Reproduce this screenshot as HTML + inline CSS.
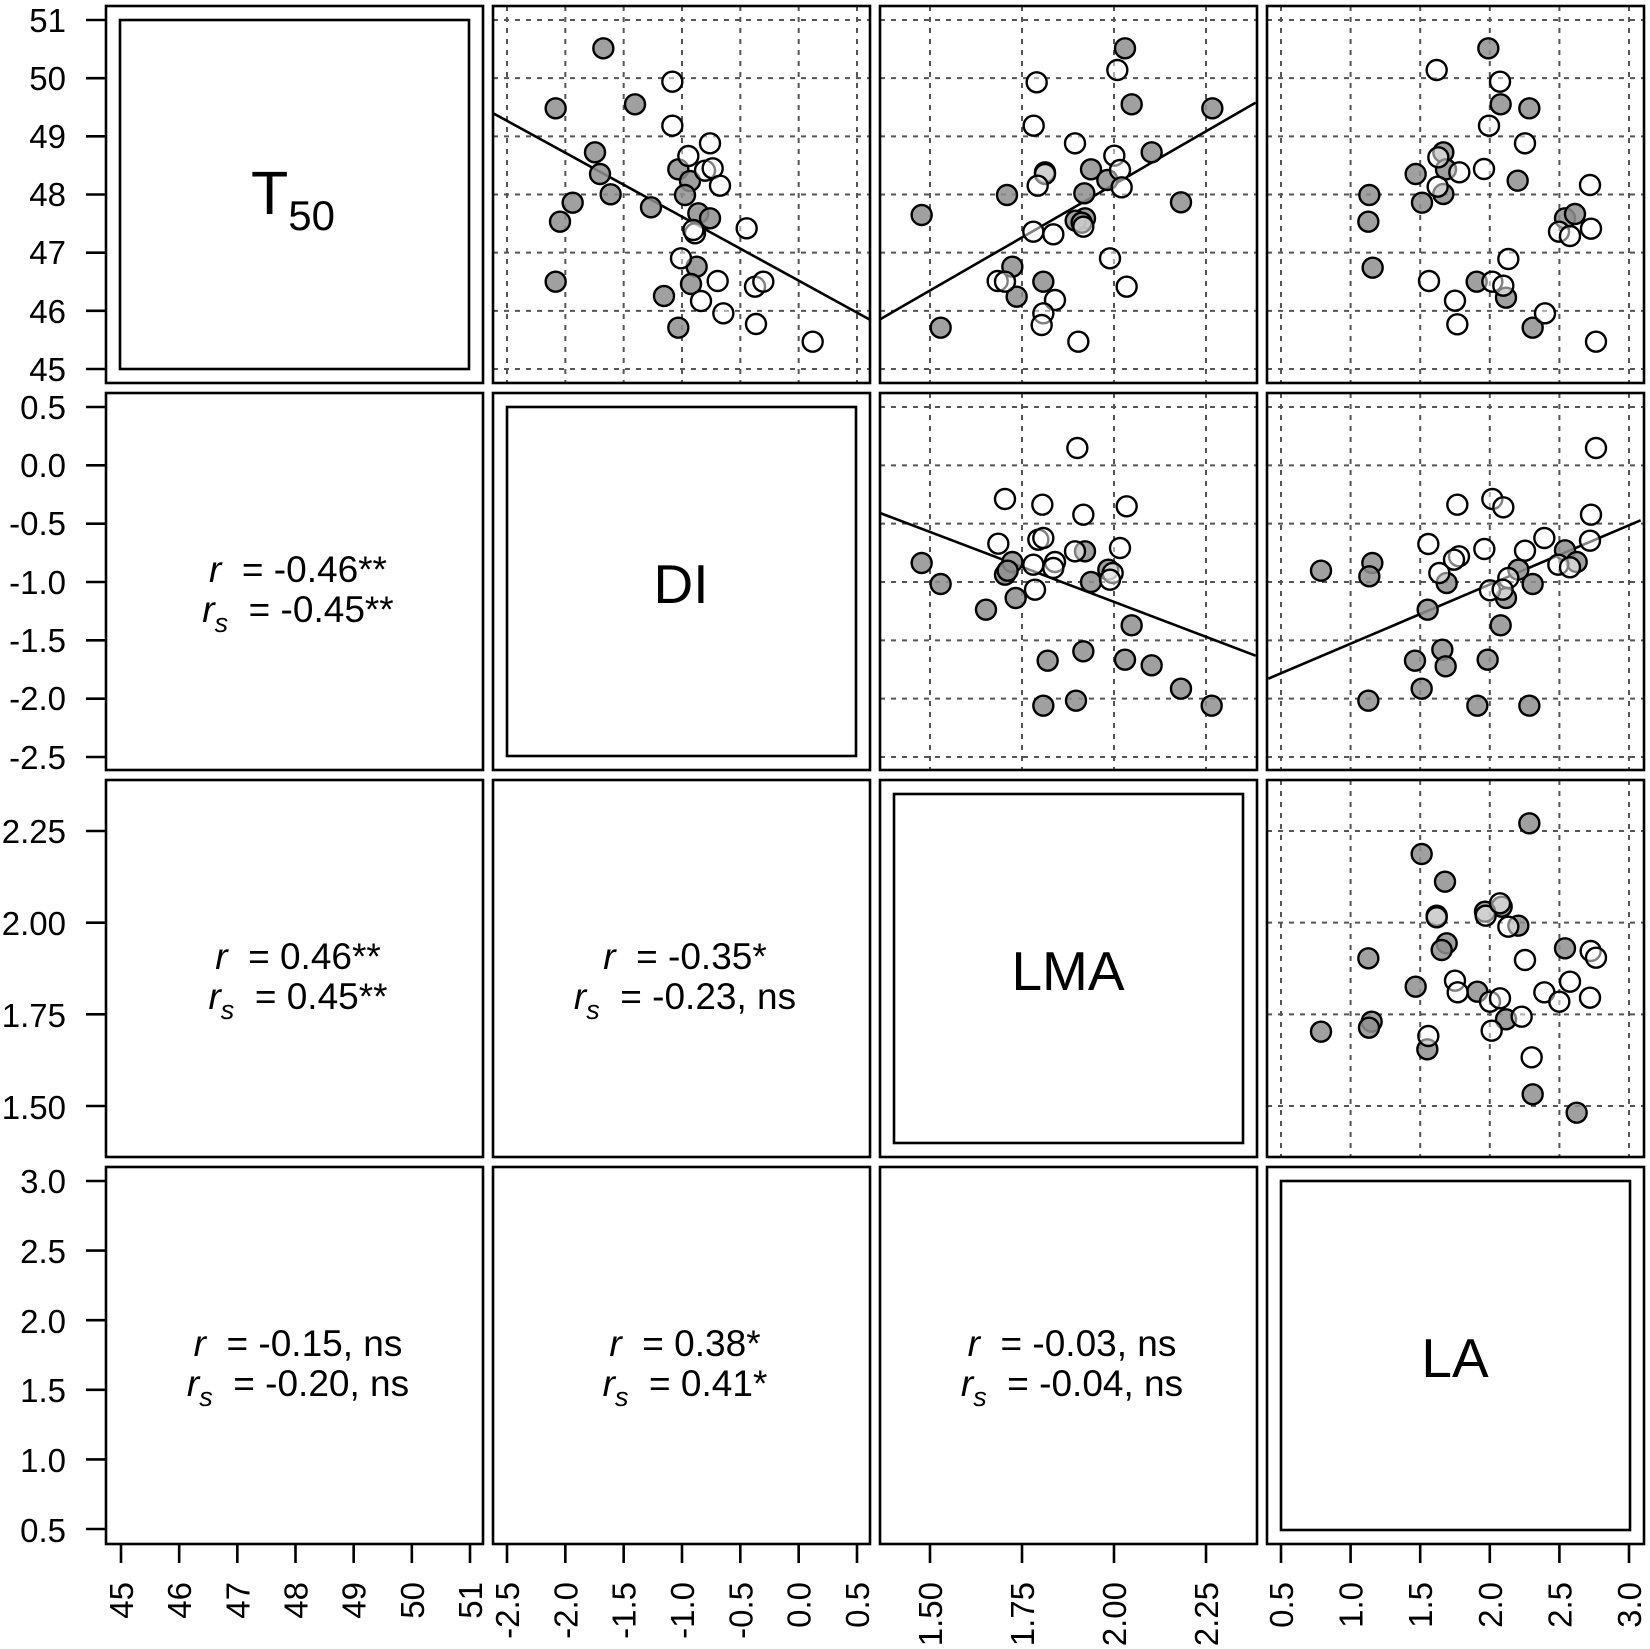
<!DOCTYPE html>
<html><head><meta charset="utf-8"><style>
html,body{margin:0;padding:0;background:#fff}
svg{display:block}
text{font-family:"Liberation Sans",Arial,sans-serif;fill:#000}
</style></head><body>
<svg id="s" xmlns="http://www.w3.org/2000/svg" width="1650" height="1649" viewBox="0 0 1650 1649">
<rect width="1650" height="1649" fill="#fff"/>
<g id="grid" stroke="#555" stroke-width="2" stroke-dasharray="5 6" fill="none"></g>
<g id="lines" stroke="#000" stroke-width="2.6" fill="none"></g>
<g id="pts" stroke="#000" stroke-width="2.4"></g>
<g id="boxes" stroke="#000" stroke-width="2.6" fill="none"></g>
<g id="ticks" stroke="#000" stroke-width="2.6"></g>
<g id="labels" font-size="33"></g>
<!-- diagonal labels -->
<text x="293" y="214" font-size="61" text-anchor="middle">T<tspan font-size="42" dy="16">50</tspan></text>
<text x="681" y="603" font-size="55" text-anchor="middle">DI</text>
<text x="1068" y="990" font-size="55" text-anchor="middle">LMA</text>
<text x="1455" y="1377" font-size="55" text-anchor="middle">LA</text>
<!-- correlation texts -->
<g font-size="37" text-anchor="middle">
<text x="298" y="582"><tspan font-style="italic">r</tspan>&#160; = -0.46**</text>
<text x="298" y="622"><tspan font-style="italic">r<tspan font-size="27" dy="10">s</tspan></tspan><tspan dy="-10">&#160; = -0.45**</tspan></text>
<text x="298" y="969"><tspan font-style="italic">r</tspan>&#160; = 0.46**</text>
<text x="298" y="1009"><tspan font-style="italic">r<tspan font-size="27" dy="10">s</tspan></tspan><tspan dy="-10">&#160; = 0.45**</tspan></text>
<text x="685" y="969"><tspan font-style="italic">r</tspan>&#160; = -0.35*</text>
<text x="685" y="1009"><tspan font-style="italic">r<tspan font-size="27" dy="10">s</tspan></tspan><tspan dy="-10">&#160; = -0.23, ns</tspan></text>
<text x="298" y="1356"><tspan font-style="italic">r</tspan>&#160; = -0.15, ns</text>
<text x="298" y="1396"><tspan font-style="italic">r<tspan font-size="27" dy="10">s</tspan></tspan><tspan dy="-10">&#160; = -0.20, ns</tspan></text>
<text x="685" y="1356"><tspan font-style="italic">r</tspan>&#160; = 0.38*</text>
<text x="685" y="1396"><tspan font-style="italic">r<tspan font-size="27" dy="10">s</tspan></tspan><tspan dy="-10">&#160; = 0.41*</tspan></text>
<text x="1072" y="1356"><tspan font-style="italic">r</tspan>&#160; = -0.03, ns</text>
<text x="1072" y="1396"><tspan font-style="italic">r<tspan font-size="27" dy="10">s</tspan></tspan><tspan dy="-10">&#160; = -0.04, ns</tspan></text>
</g>
<g font-size="33" text-anchor="end" id="ylab">
<text x="66" y="32">51</text><text x="66" y="90">50</text><text x="66" y="148">49</text><text x="66" y="206">48</text><text x="66" y="264">47</text><text x="66" y="323">46</text><text x="66" y="381">45</text>
<text x="66" y="419">0.5</text><text x="66" y="477">0.0</text><text x="66" y="535">-0.5</text><text x="66" y="594">-1.0</text><text x="66" y="652">-1.5</text><text x="66" y="710">-2.0</text><text x="66" y="769">-2.5</text>
<text x="66" y="843">2.25</text><text x="66" y="935">2.00</text><text x="66" y="1027">1.75</text><text x="66" y="1119">1.50</text>
<text x="66" y="1193">3.0</text><text x="66" y="1263">2.5</text><text x="66" y="1333">2.0</text><text x="66" y="1402">1.5</text><text x="66" y="1472">1.0</text><text x="66" y="1542">0.5</text>
</g>
<g font-size="33" text-anchor="end" id="xlab"></g>
</svg>
<script>
var NS="http://www.w3.org/2000/svg";
function el(p,t,a,txt){var e=document.createElementNS(NS,t);for(var k in a)e.setAttribute(k,a[k]);if(txt!==undefined)e.textContent=txt;document.getElementById(p).appendChild(e);return e;}
var colX=[106,493,880,1267], rowY=[6,393,780,1167], S=377;
function lin(a,b,n){var r=[];for(var i=0;i<n;i++)r.push(a+(b-a)*i/(n-1));return r;}
var ax=[
 {x:lin(15,364,7), y:lin(14,363,7), lab:["45","46","47","48","49","50","51"]},
 {x:lin(14,364,7), y:lin(14,364,7), lab:["-2.5","-2.0","-1.5","-1.0","-0.5","0.0","0.5"]},
 {x:lin(50,326,4), y:lin(51,326,4), lab:["1.50","1.75","2.00","2.25"]},
 {x:lin(14,362,6), y:lin(14,362,6), lab:["0.5","1.0","1.5","2.0","2.5","3.0"]}
];
for(var r=0;r<4;r++)for(var c=0;c<4;c++){
  var x=colX[c],y=rowY[r];
  el("boxes","rect",{x:x,y:y,width:S,height:S});
  if(r==c) el("boxes","rect",{x:x+14,y:y+14,width:S-28,height:S-28});
  if(c>r){
    ax[c].x.forEach(function(v){el("grid","line",{x1:x+v,y1:y,x2:x+v,y2:y+S});});
    ax[r].y.forEach(function(v){el("grid","line",{x1:x,y1:y+v,x2:x+S,y2:y+v});});
  }
}
for(var r=0;r<4;r++) ax[r].y.forEach(function(v){el("ticks","line",{x1:86,y1:rowY[r]+v,x2:106,y2:rowY[r]+v});});
for(var c=0;c<4;c++) ax[c].x.forEach(function(v,i){
  var X=colX[c]+v;
  el("ticks","line",{x1:X,y1:1543,x2:X,y2:1563});
  el("xlab","text",{x:0,y:0,transform:"translate("+(X+12)+",1582) rotate(-90)"},ax[c].lab[i]);
});
var P=[
 {o:[490,0],L:[10,340,1138,958],
  f:[[340,145],[197,325],[435,313],[315,457],[330,522],[362,583],[248,608],[210,665],[483,622],[565,508],[600,543],[585,585],[625,640],[660,655],[197,845],[620,800],[603,852],[522,888],[565,983]],
  e:[[547,245],[547,377],[660,430],[595,468],[645,512],[668,505],[690,557],[770,685],[615,700],[610,690],[573,775],[683,843],[795,860],[820,845],[633,903],[700,940],[798,972],[968,1025]]},
 {o:[875,0],L:[15,958,1142,308],
  f:[[750,145],[770,313],[1012,325],[830,457],[648,508],[510,517],[697,540],[628,580],[396,585],[918,607],[140,645],[630,655],[602,662],[620,668],[412,800],[505,845],[425,890],[197,983]],
  e:[[727,210],[485,247],[476,377],[600,430],[718,467],[735,510],[510,522],[488,557],[740,562],[625,680],[475,695],[535,703],[705,775],[368,843],[390,845],[755,860],[540,900],[505,940],[500,975],[610,1025]]},
 {o:[1260,0],
  f:[[685,145],[722,313],[808,325],[550,457],[467,522],[558,508],[773,542],[328,585],[550,582],[486,608],[325,665],[915,655],[945,642],[338,803],[650,845],[738,893],[818,983]],
  e:[[530,210],[720,245],[687,377],[795,430],[535,472],[598,517],[672,507],[533,560],[990,555],[897,695],[930,708],[993,686],[745,777],[507,843],[697,845],[730,857],[585,902],[855,940],[592,973],[1008,1025]]},
 {o:[875,388],L:[15,375,1142,803],
  f:[[140,525],[197,588],[333,665],[422,630],[390,560],[412,522],[398,548],[630,490],[648,582],[700,545],[770,712],[625,790],[518,818],[750,815],[830,832],[918,902],[505,953],[603,938],[1010,953]],
  e:[[607,180],[390,333],[502,350],[625,380],[755,355],[370,467],[490,455],[505,450],[600,490],[735,480],[475,530],[540,522],[535,540],[480,605],[713,555],[705,575]]},
 {o:[1260,388],L:[25,872,1142,397],
  f:[[183,548],[337,525],[328,565],[560,585],[503,665],[775,545],[818,588],[738,630],[722,712],[915,487],[950,522],[465,818],[547,785],[557,835],[683,815],[485,902],[325,938],[652,953],[808,953]],
  e:[[592,350],[697,333],[730,358],[993,380],[1008,180],[505,468],[597,505],[582,515],[538,555],[673,483],[795,488],[853,450],[990,458],[895,530],[930,538],[745,570],[690,607],[728,605]]},
 {o:[1260,775],
  f:[[808,145],[485,237],[555,320],[530,422],[775,452],[560,505],[545,525],[325,550],[467,635],[652,650],[738,733],[915,520],[335,740],[327,758],[183,770],[502,823],[818,958],[950,1013],[725,395],[675,410]],
  e:[[530,427],[677,422],[720,385],[745,455],[795,555],[992,528],[1008,548],[585,617],[593,652],[690,680],[720,670],[853,652],[930,620],[898,680],[990,668],[785,725],[695,767],[505,783],[815,847]]}
];
P.forEach(function(p){
  var ox=p.o[0],oy=p.o[1];
  if(p.L) el("lines","line",{x1:ox+p.L[0]/3,y1:oy+p.L[1]/3,x2:ox+p.L[2]/3,y2:oy+p.L[3]/3});
  p.f.forEach(function(q){el("pts","circle",{cx:ox+q[0]/3,cy:oy+q[1]/3,r:10,fill:"#8f8f8f","fill-opacity":"0.85"});});
  p.e.forEach(function(q){el("pts","circle",{cx:ox+q[0]/3,cy:oy+q[1]/3,r:10,fill:"#fff","fill-opacity":"0.5"});});
});
</script>
</body></html>
